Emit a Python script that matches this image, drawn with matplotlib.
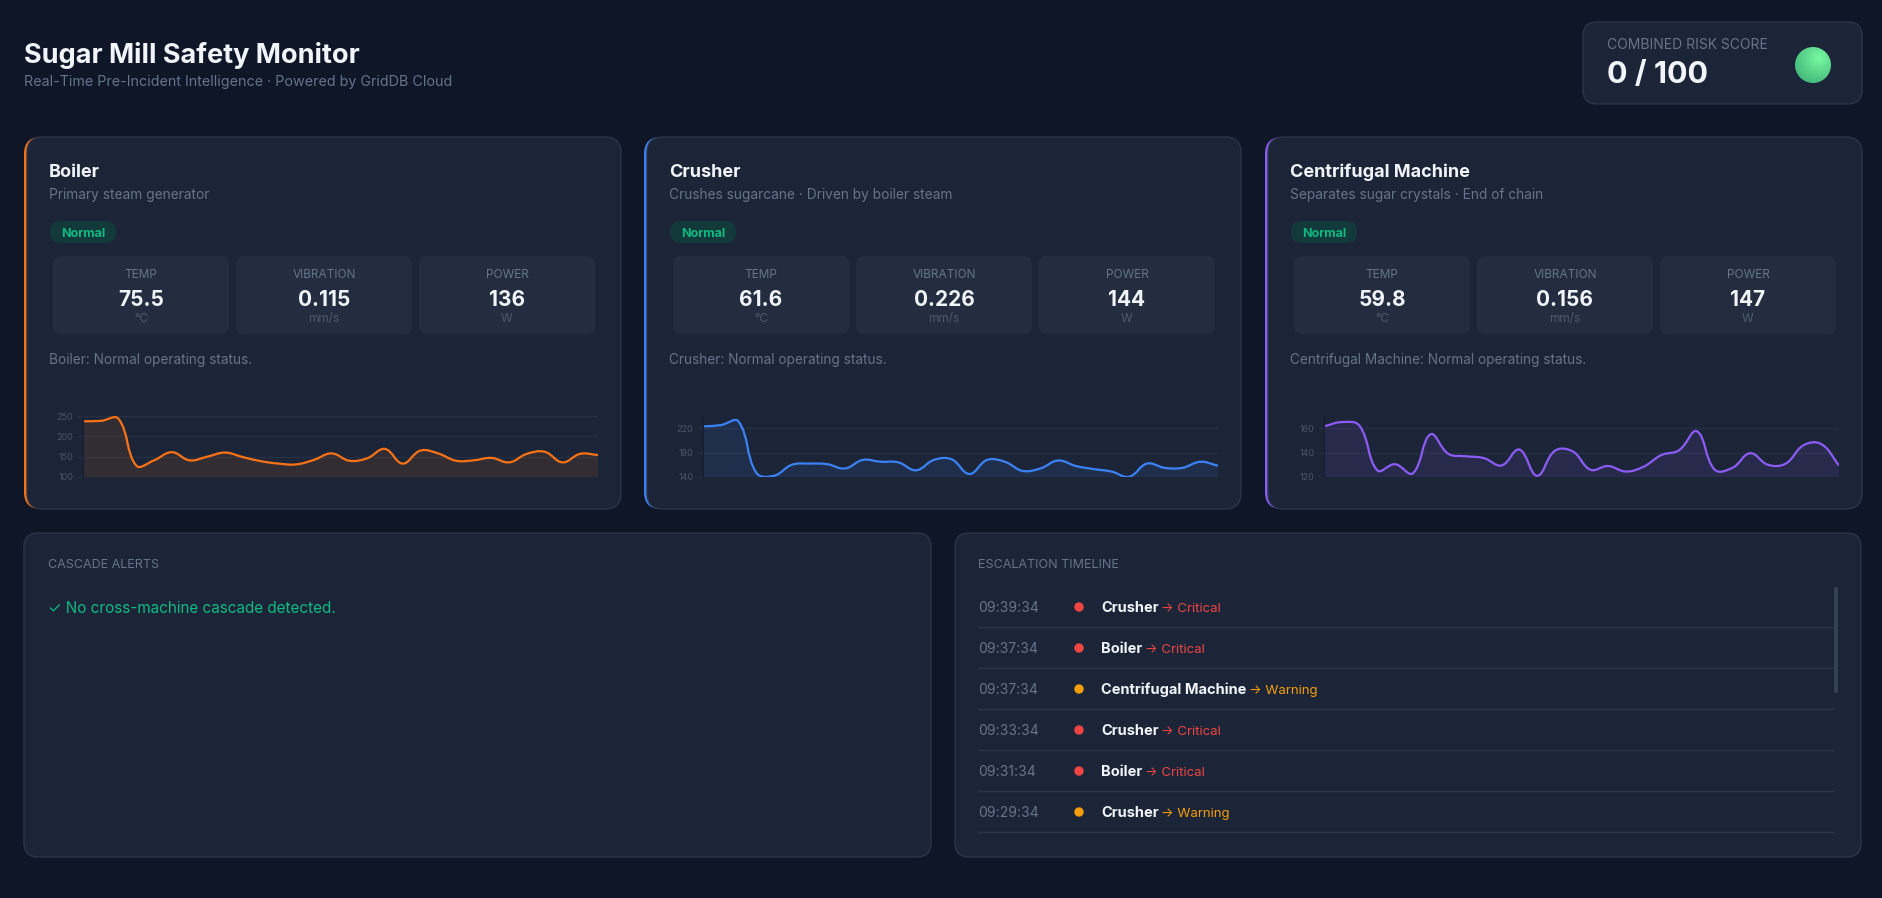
import matplotlib.pyplot as plt
import numpy as np
from matplotlib.patches import FancyBboxPatch, Circle, PathPatch
from matplotlib.path import Path

plt.rcParams['font.family'] = ['Inter', 'DejaVu Sans']

# ---- data ----
machines = ['Boiler', 'Crusher', 'Centrifugal Machine']
descriptions = ['Primary steam generator',
                'Crushes sugarcane \u00b7 Driven by boiler steam',
                'Separates sugar crystals \u00b7 End of chain']
statuses = ['Normal', 'Normal', 'Normal']
temps = ['75.5', '61.6', '59.8']
vibrations = ['0.115', '0.226', '0.156']
powers = ['136', '144', '147']

boiler_hist = [237, 238, 243, 128, 141, 161, 141, 150, 160, 149, 139, 133, 131, 142, 158,
               140, 146, 169, 133, 165, 158, 140, 141, 147, 136, 157, 162, 136, 157, 154]
crusher_hist = [223, 225, 231, 147, 142, 160, 162, 161, 154, 168, 165, 164, 151, 168, 169,
                145, 168, 165, 150, 154, 167, 158, 153, 149, 140.5, 162, 155, 155, 165, 158.5]
centri_hist = [161.5, 165, 162, 125.5, 130.5, 123, 155, 139, 137, 135.5, 129.5, 142.5, 121, 141.5, 141,
               126, 129, 124.5, 128.5, 138, 142, 157.5, 126, 127.5, 139.5, 130, 131, 146, 147, 129.5]
histories = [boiler_hist, crusher_hist, centri_hist]
y_limits = [(100, 250), (140, 240), (120, 170)]
y_ticks = [[100, 150, 200, 250], [140, 180, 220], [120, 140, 160]]

risk_score = 0
cascade_msg = '\u2713 No cross-machine cascade detected.'

tl_times = ['09:39:34', '09:37:34', '09:37:34', '09:33:34', '09:31:34', '09:29:34']
tl_machines = ['Crusher', 'Boiler', 'Centrifugal Machine', 'Crusher', 'Boiler', 'Crusher']
tl_levels = ['Critical', 'Critical', 'Warning', 'Critical', 'Critical', 'Warning']

# ---- style ----
W, H = 1882, 898
BG = '#0e1628'
CARD = '#1c2537'
BOX = '#232d3f'
BORDER = '#2b3548'
WHITE = '#f1f5f9'
GRAY = '#64748b'
GREEN = '#10b981'
accents = ['#f97316', '#3b82f6', '#8b5cf6']
level_colors = {'Critical': '#ef4444', 'Warning': '#f59e0b'}

fig = plt.figure(figsize=(W / 100, H / 100), dpi=100)
fig.patch.set_facecolor(BG)
bg = fig.add_axes([0, 0, 1, 1])
bg.set_facecolor(BG)
bg.axis('off')


def rbox(x, y, w, h, r, fc, ec='none', lw=0, z=1):
    p = FancyBboxPatch((x, y), w, h, boxstyle=f'round,pad=0,rounding_size={r}',
                       fc=fc, ec=ec, lw=lw, zorder=z)
    bg.add_patch(p)
    return p


def smooth(xs, ys, sx, sy, t=0.4):
    # bezier control points like a tension-0.4 spline
    px = np.asarray(xs, float) * sx
    py = np.asarray(ys, float) * sy
    n = len(px)
    cpa = np.zeros((n, 2))
    cpb = np.zeros((n, 2))
    for i in range(n):
        p = np.array([px[i], py[i]])
        a = np.array([px[max(i - 1, 0)], py[max(i - 1, 0)]])
        b = np.array([px[min(i + 1, n - 1)], py[min(i + 1, n - 1)]])
        d01 = np.hypot(*(p - a))
        d12 = np.hypot(*(b - p))
        s = d01 + d12
        fa = t * d01 / s if s else 0
        fb = t * d12 / s if s else 0
        cpa[i] = p - fa * (b - a)
        cpb[i] = p + fb * (b - a)
    verts = [(px[0], py[0])]
    codes = [Path.MOVETO]
    for i in range(n - 1):
        verts += [tuple(cpb[i]), tuple(cpa[i + 1]), (px[i + 1], py[i + 1])]
        codes += [Path.CURVE4] * 3
    verts = np.array(verts)
    verts[:, 0] /= sx
    verts[:, 1] /= sy
    return verts, codes


# ---- header ----
bg.text(24, 63, 'Sugar Mill Safety Monitor', fontsize=19.5, fontweight='bold', color=WHITE, va='baseline')
bg.text(24, 86, 'Real-Time Pre-Incident Intelligence \u00b7 Powered by GridDB Cloud',
        fontsize=10.3, color=GRAY, va='baseline')

rbox(1583, 22, 279, 82, 14, CARD, BORDER, 1)
bg.text(1607, 49, 'COMBINED RISK SCORE', fontsize=10, color=GRAY, va='baseline')
bg.text(1607, 83, f'{risk_score} / 100', fontsize=22, fontweight='bold', color=WHITE, va='baseline')

# green status orb
cx, cy, r = 1813, 65, 18
gx, gy = np.meshgrid(np.linspace(cx - r, cx + r, 80), np.linspace(cy - r, cy + r, 80))
d = np.hypot(gx - (cx + 6), gy - (cy - 7)) / (2 * r)
light = np.array([0.47, 0.98, 0.63])
dark = np.array([0.20, 0.64, 0.44])
img = light[None, None, :] * (1 - d[..., None]) + dark[None, None, :] * d[..., None]
im = bg.imshow(np.clip(img, 0, 1), extent=(cx - r, cx + r, cy + r, cy - r), origin='upper', zorder=3)
orb = Circle((cx, cy), r, transform=bg.transData)
im.set_clip_path(orb)

# ---- machine cards ----
card_x = [24, 644, 1265]
card_w = 597
card_top, card_h = 137, 372
for k in range(3):
    x0 = card_x[k]
    rbox(x0, card_top, card_w, card_h, 17, accents[k], z=1)
    rbox(x0 + 3, card_top, card_w - 3, card_h, 16, CARD, BORDER, 1, z=2)
    bg.text(x0 + 25, 177, machines[k], fontsize=13, fontweight='bold', color=WHITE, va='baseline', zorder=5)
    bg.text(x0 + 25, 199, descriptions[k], fontsize=9.9, color=GRAY, va='baseline', zorder=5)
    rbox(x0 + 26, 221, 66, 22, 11, '#123a3a', z=3)
    bg.text(x0 + 59, 237, statuses[k], fontsize=9, fontweight='bold', color=GREEN,
            ha='center', va='baseline', zorder=5)
    labels = ['TEMP', 'VIBRATION', 'POWER']
    values = [temps[k], vibrations[k], powers[k]]
    units = ['\u00b0C', 'mm/s', 'W']
    for j in range(3):
        bx = x0 + 29 + j * 183
        rbox(bx, 256, 176, 78, 8, BOX, z=3)
        mx = bx + 88
        bg.text(mx, 278, labels[j], fontsize=8.5, color=GRAY, ha='center', va='baseline', zorder=5)
        bg.text(mx, 306, values[j], fontsize=15, fontweight='bold', color=WHITE, ha='center',
                va='baseline', zorder=5)
        bg.text(mx, 322, units[j], fontsize=8.5, color='#4b5a70', ha='center', va='baseline', zorder=5)
    bg.text(x0 + 25, 364, f'{machines[k]}: Normal operating status.', fontsize=9.8, color=GRAY,
            va='baseline', zorder=5)

    # trend chart
    ax_l, ax_r, ax_t, ax_b = x0 + 59, x0 + 574, 416, 477
    ax = fig.add_axes([ax_l / W, 1 - ax_b / H, (ax_r - ax_l) / W, (ax_b - ax_t) / H])
    ax.set_facecolor('none')
    ax.set_zorder(10)
    vals = histories[k]
    xs = np.arange(len(vals))
    ymin, ymax = y_limits[k]
    sx = (ax_r - ax_l) / (len(vals) - 1)
    sy = (ax_b - ax_t) / (ymax - ymin)
    verts, codes = smooth(xs, vals, sx, sy)
    fill_verts = np.vstack([verts, [[xs[-1], ymin], [xs[0], ymin], [xs[0], vals[0]]]])
    fill_codes = codes + [Path.LINETO, Path.LINETO, Path.CLOSEPOLY]
    ax.add_patch(PathPatch(Path(fill_verts, fill_codes), fc=accents[k], ec='none', alpha=0.1))
    ax.add_patch(PathPatch(Path(verts, codes), fill=False, ec=accents[k], lw=1.6))
    ax.set_xlim(xs[0], xs[-1])
    ax.set_ylim(ymin, ymax)
    ax.set_yticks(y_ticks[k])
    ax.set_xticks([])
    ax.grid(axis='y', color='#263043', lw=0.9)
    ax.set_axisbelow(True)
    for s in ['top', 'right', 'bottom']:
        ax.spines[s].set_visible(False)
    ax.spines['left'].set_color('#161e2e')
    ax.tick_params(axis='y', length=4, width=0.8, color='#263043', labelcolor='#4a5568',
                   labelsize=6.5, pad=3)

# ---- cascade alerts panel ----
rbox(24, 533, 907, 324, 14, CARD, BORDER, 1)
bg.text(48, 568, 'CASCADE ALERTS', fontsize=9, color=GRAY, va='baseline')
bg.text(48, 613, cascade_msg, fontsize=11, color=GREEN, va='baseline')

# ---- escalation timeline panel ----
rbox(955, 533, 906, 324, 14, CARD, BORDER, 1)
bg.text(978, 568, 'ESCALATION TIMELINE', fontsize=9, color=GRAY, va='baseline')
row_base = 612
row_step = 41
for i in range(len(tl_times)):
    yb = row_base + i * row_step
    bg.text(978, yb, tl_times[i], fontsize=10, color=GRAY, va='baseline')
    col = level_colors[tl_levels[i]]
    bg.add_patch(Circle((1079, yb - 5), 4, color=col, zorder=4))
    t1 = bg.text(1101, yb, tl_machines[i], fontsize=10.5, fontweight='bold', color=WHITE, va='baseline')
    bg.annotate('\u2192 ' + tl_levels[i], xy=(1, yb), xycoords=(t1, 'data'), xytext=(2, 0),
                textcoords='offset points', fontsize=9.5, color=col, va='baseline', ha='left')
    bg.plot([978, 1834], [yb + 15, yb + 15], color=BORDER, lw=1)
rbox(1834, 587, 4, 106, 2, '#334155', z=4)

bg.set_xlim(0, W)
bg.set_ylim(H, 0)

fig.savefig('out.png', dpi=100, facecolor=BG)
